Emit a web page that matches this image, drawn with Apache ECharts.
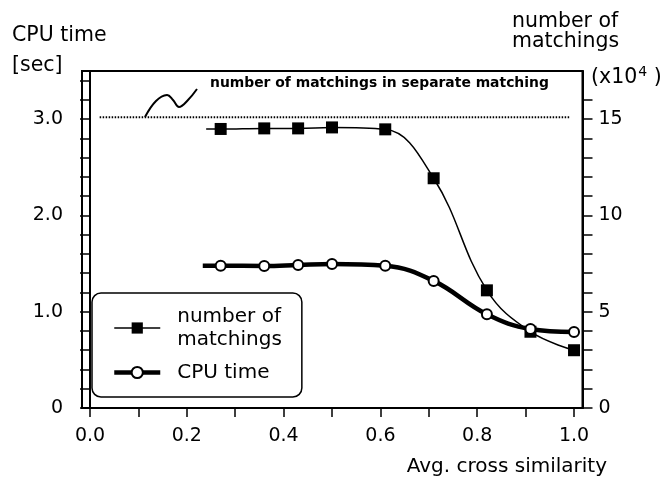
<!DOCTYPE html>
<html>
<head>
<meta charset="utf-8">
<script src="https://cdn.jsdelivr.net/npm/echarts@6/dist/echarts.min.js"></script>
<style>
  html, body { margin: 0; padding: 0; background: #fff; }
  #chart { width: 664px; height: 481px; }
</style>
</head>
<body>
<div id="chart"></div>
<script>
// x positions of the measurements (avg. cross similarity)
const xVals = [0.27, 0.36, 0.43, 0.50, 0.61, 0.71, 0.82, 0.91, 1.00];
// number of matchings, in units of 10^4 (right axis)
const matchings = [14.49, 14.52, 14.52, 14.57, 14.47, 11.93, 6.11, 3.96, 3.00];
// CPU time in seconds (left axis)
const cpuTime = [1.478, 1.475, 1.485, 1.495, 1.478, 1.32, 0.973, 0.82, 0.79];
// where each curve begins, left of its first marker
const matchStartX = 0.24;
const cpuStartX = 0.233;
// number of matchings in separate matching (drawn on left axis scale)
const separateX = [0.02, 0.99];
const separateLevel = 3.02;

const xTicks = [0, 0.1, 0.2, 0.3, 0.4, 0.5, 0.6, 0.7, 0.8, 0.9, 1.0];
const xLabels = [0, 0.2, 0.4, 0.6, 0.8, 1.0];
const leftTicks = [0, 0.2, 0.4, 0.6, 0.8, 1.0, 1.2, 1.4, 1.6, 1.8, 2.0, 2.2, 2.4, 2.6, 2.8, 3.0, 3.2, 3.4];
const leftLabels = [0, 1, 2, 3];
const rightTicks = [0, 1, 2, 3, 4, 5, 6, 7, 8, 9, 10, 11, 12, 13, 14, 15, 16];
const rightLabels = [0, 5, 10, 15];

const FONT = 'DejaVu Sans';
const TITLE_FONT = '20.5px "DejaVu Sans"';

function pts(xs, ys, startX) {
  const out = [{ value: [startX, ys[0]], symbol: 'none' }];
  xs.forEach((x, i) => out.push([x, ys[i]]));
  return out;
}

function label(x, y, text, font, align) {
  return {
    type: 'text', x: x, y: y,
    style: { text: text, font: font, fill: '#000', align: align || 'left', verticalAlign: 'middle' }
  };
}

const chart = echarts.init(document.getElementById('chart'));

const option = {
  animation: false,
  backgroundColor: '#fff',
  textStyle: { fontFamily: FONT, color: '#000' },
  grid: {
    left: 82, right: 81.5, top: 71, bottom: 73,
    show: true, borderColor: '#000', borderWidth: 2,
    outerBoundsMode: 'none'
  },
  xAxis: {
    type: 'value', min: -0.0165, max: 1.0175,
    splitLine: { show: false },
    axisLine: { lineStyle: { color: '#000', width: 2 } },
    axisTick: { customValues: xTicks, length: 9, lineStyle: { color: '#000', width: 1.5 } },
    axisLabel: {
      customValues: xLabels, margin: 19, color: '#000', fontFamily: FONT, fontSize: 19,
      formatter: v => v.toFixed(1)
    }
  },
  yAxis: [{
    type: 'value', min: 0, max: 3.5, position: 'left',
    splitLine: { show: false },
    axisLine: { show: true, lineStyle: { color: '#000', width: 2 } },
    axisTick: { show: true, customValues: leftTicks, length: 10, lineStyle: { color: '#000', width: 1.5 } },
    axisLabel: {
      customValues: leftLabels, margin: 19, color: '#000', fontFamily: FONT, fontSize: 19,
      formatter: v => v === 0 ? '0' : v.toFixed(1)
    }
  }, {
    type: 'value', min: 0, max: 17.5, position: 'right',
    splitLine: { show: false },
    axisLine: { show: true, lineStyle: { color: '#000', width: 2 } },
    axisTick: { show: true, customValues: rightTicks, length: 10, lineStyle: { color: '#000', width: 1.5 } },
    axisLabel: {
      customValues: rightLabels, margin: 16, color: '#000', fontFamily: FONT, fontSize: 19
    }
  }],
  legend: {
    left: 92, top: 293, orient: 'vertical',
    itemWidth: 46, itemHeight: 14, itemGap: 10,
    padding: [12, 20, 13, 20],
    borderColor: '#000', borderWidth: 1.5, borderRadius: 9,
    textStyle: { fontFamily: FONT, fontSize: 20, color: '#000', lineHeight: 23, padding: [0, 0, 0, 12] },
    data: [
      { name: 'number of\nmatchings', lineStyle: { width: 1.5 } },
      { name: 'CPU time', lineStyle: { width: 4.5 } }
    ]
  },
  series: [{
    name: 'separate',
    type: 'line',
    yAxisIndex: 0,
    data: separateX.map(x => [x, separateLevel]),
    symbol: 'none',
    silent: true,
    lineStyle: { color: '#000', width: 2, type: [1.5, 1.5] }
  }, {
    name: 'number of\nmatchings',
    type: 'line',
    yAxisIndex: 1,
    data: pts(xVals, matchings, matchStartX),
    smooth: 0.4,
    symbol: 'rect',
    symbolSize: 12,
    itemStyle: { color: '#000' },
    lineStyle: { color: '#000', width: 1.5 },
    z: 3
  }, {
    name: 'CPU time',
    type: 'line',
    yAxisIndex: 0,
    data: pts(xVals, cpuTime, cpuStartX),
    smooth: 0.4,
    symbol: 'circle',
    symbolSize: 10,
    itemStyle: { color: '#fff', borderColor: '#000', borderWidth: 2 },
    lineStyle: { color: '#000', width: 4.5 },
    z: 4
  }],
  graphic: [
    label(12, 35.5, 'CPU time', TITLE_FONT),
    label(12, 66, '[sec]', TITLE_FONT),
    label(512, 21.5, 'number of', TITLE_FONT),
    label(512, 41.5, 'matchings', TITLE_FONT),
    {
      type: 'text', x: 591, y: 78,
      style: {
        text: '(x10{s|4} )', font: TITLE_FONT, fill: '#000', verticalAlign: 'middle',
        rich: { s: { fontSize: 14, fontFamily: FONT, verticalAlign: 'top', padding: [0, 0, 12, 1] } }
      }
    },
    label(607, 466.5, 'Avg. cross similarity', '20px "DejaVu Sans"', 'right'),
    label(210, 83.5, 'number of matchings in separate matching', 'bold 13.9px "DejaVu Sans"'),
    {
      type: 'polyline',
      shape: { points: [[145, 117], [156, 101], [167, 95], [173, 100], [179, 107], [188, 100], [197, 89]], smooth: 0.4 },
      style: { stroke: '#000', lineWidth: 2, fill: null }
    }
  ]
};

chart.setOption(option);
</script>
</body>
</html>
